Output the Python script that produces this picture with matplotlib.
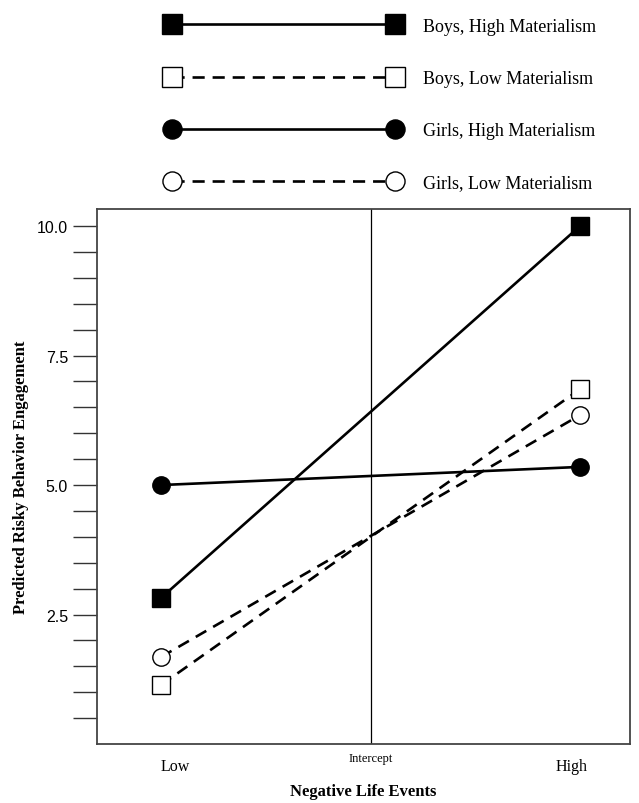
import matplotlib.pyplot as plt
from matplotlib.ticker import FixedLocator

# Dados
niveis = [-1, 1]  # Low, High (eventos de vida negativos)
rotulos_x = ['Low', 'Intercept', 'High']
rotulos_series = ['Boys, High Materialism', 'Boys, Low Materialism',
                  'Girls, High Materialism', 'Girls, Low Materialism']
boys_high = [2.82, 10.0]
boys_low = [1.14, 6.85]
girls_high = [5.0, 5.35]
girls_low = [1.68, 6.35]
ticks_y = [2.5, 5.0, 7.5, 10.0]
ticks_menores = [0.5 * i for i in range(1, 21)]

serif = 'Liberation Serif'
sans = 'Liberation Sans'

fig = plt.figure(figsize=(6.39, 8.04), dpi=100)
ax = fig.add_axes([0.152, 0.0734, 0.834, 0.6654])

tracejado = (0, (4.6, 3.0))
estilos = [
    dict(ls='-', marker='s', mfc='black'),
    dict(ls=tracejado, marker='s', mfc='white'),
    dict(ls='-', marker='o', mfc='black'),
    dict(ls=tracejado, marker='o', mfc='white'),
]
series = [boys_high, boys_low, girls_high, girls_low]
for valores, rotulo, est in zip(series, rotulos_series, estilos):
    ax.plot(niveis, valores, color='black', lw=1.9, ls=est['ls'],
            marker=est['marker'], ms=12.5, mfc=est['mfc'], mec='black',
            mew=1.0, label=rotulo, zorder=3)

ax.axvline(0, color='black', lw=0.9, zorder=1)

ax.set_xlim(-1.305, 1.239)
ax.set_ylim(0, 10.33)
ax.set_yticks(ticks_y)
ax.yaxis.set_minor_locator(FixedLocator(ticks_menores))
ax.set_yticklabels(['2.5', '5.0', '7.5', '10.0'], fontfamily=sans, fontsize=11.5)
ax.tick_params(axis='y', which='both', direction='out', length=17,
               width=1.0, color='#333333', pad=4)
ax.set_xticks([])

# Rótulos do eixo x
trans = ax.get_xaxis_transform()
ax.text(-0.93, -0.042, rotulos_x[0], transform=trans, ha='center', va='center',
        fontfamily=serif, fontsize=11.5)
ax.text(0.0, -0.026, rotulos_x[1], transform=trans, ha='center', va='center',
        fontfamily=serif, fontsize=9)
ax.text(0.96, -0.042, rotulos_x[2], transform=trans, ha='center', va='center',
        fontfamily=serif, fontsize=11.5)

ax.set_xlabel('Negative Life Events', fontfamily=serif, fontweight='bold',
              fontsize=12, labelpad=28)
ax.set_ylabel('Predicted Risky Behavior Engagement', fontfamily=serif,
              fontweight='bold', fontsize=12, labelpad=6)

for sp in ax.spines.values():
    sp.set_color('#444444')
    sp.set_linewidth(1.3)

leg = fig.legend(loc='upper left', bbox_to_anchor=(0.236, 0.997),
                 frameon=False, handlelength=12.9, handletextpad=1.25,
                 labelspacing=1.95, prop={'family': serif, 'size': 13},
                 numpoints=2, markerscale=1.1)

fig.savefig('out.png', dpi=100)
